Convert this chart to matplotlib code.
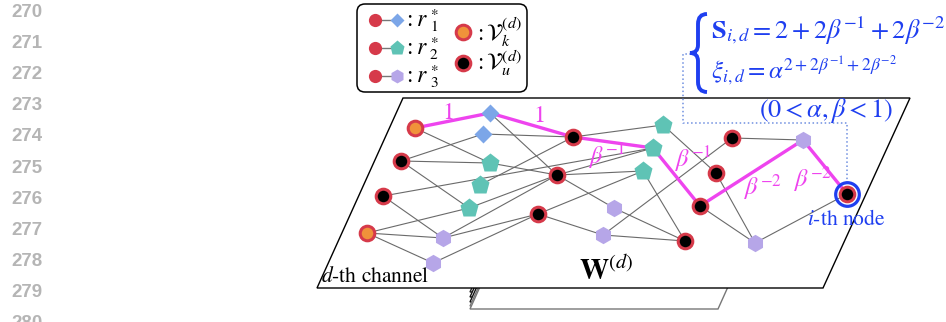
import matplotlib
matplotlib.use("Agg")
import matplotlib.pyplot as plt
from matplotlib.patches import Polygon, FancyBboxPatch, PathPatch
from matplotlib.path import Path

plt.rcParams['font.family'] = 'STIXGeneral'
plt.rcParams['mathtext.fontset'] = 'stix'

# node positions (pixel space of the 946x322 picture) and kinds
node_x = [415, 367, 573, 401, 557, 383, 538, 732, 716, 700, 685, 847,
          490, 483, 663, 653, 643, 490, 480, 469, 443, 433, 614, 603, 803, 755]
node_y = [128, 233, 137, 161, 175, 196, 214, 138, 173, 206, 241, 194,
          113, 134, 125, 148, 171, 163, 185, 208, 238, 263, 208, 235, 140, 243]
node_kind = ['known', 'known'] + ['unknown'] * 10 + ['r1', 'r1'] + ['r2'] * 6 + ['r3'] * 6

edges = [(0, 12), (0, 17), (12, 4), (12, 2), (13, 2), (13, 3), (3, 17), (3, 19),
         (17, 4), (18, 2), (5, 15), (5, 20), (1, 19), (1, 20), (1, 21), (20, 4),
         (20, 6), (19, 4), (21, 6), (6, 23), (6, 16), (4, 22), (4, 16), (4, 15),
         (2, 14), (2, 15), (14, 8), (16, 10), (7, 24), (7, 23), (9, 25), (25, 11),
         (23, 10), (22, 10), (8, 25), (9, 24), (15, 9)]
path_nodes = [0, 12, 2, 15, 9, 24, 11]
path_labels = [r'$1$', r'$1$', r'$\beta^{-1}$', r'$\beta^{-1}$', r'$\beta^{-2}$', r'$\beta^{-2}$']
label_x = [448, 539, 607, 693, 763, 813]
label_y = [113, 116, 157, 160, 188, 180]

line_numbers = [str(n) for n in range(270, 281)]

RED = '#d63a4a'
BLACK = '#000000'
ORANGE = '#f0923a'
BLUE_D = '#7ca6e8'
TEAL = '#5fc3b5'
LAV = '#b6a6e8'
MAG = '#ee44ee'
BLUE = '#1f3ff0'

style = {
    'known': dict(marker='o', ms=10.5, mfc=ORANGE, mec=RED, mew=2.2),
    'unknown': dict(marker='o', ms=10.5, mfc=BLACK, mec=RED, mew=2.2),
    'r1': dict(marker='D', ms=9.5, mfc=BLUE_D, mec='none'),
    'r2': dict(marker='p', ms=14, mfc=TEAL, mec='none'),
    'r3': dict(marker='h', ms=12.5, mfc=LAV, mec='none'),
}

fig = plt.figure(figsize=(9.46, 3.22), dpi=100)
ax = fig.add_axes([0, 0, 1, 1])
ax.set_xlim(0, 946)
ax.set_ylim(322, 0)
ax.axis('off')

# line numbers in the margin
for i, s in enumerate(line_numbers):
    ax.text(27, 12 + 31.2 * i, s, family='Liberation Sans', weight='bold',
            color='#b5b5b5', fontsize=13.5, ha='center', va='center')

# stack of channels behind the plane
layer_b = [292, 297, 302, 306, 309]
layer_c = ['#222222', '#111111', '#111111', '#777777', '#777777']
for b, c in zip(layer_b, layer_c):
    ax.add_patch(Polygon([(470, b), (718, b), (763, b - 100), (515, b - 100)],
                         closed=True, fc='white', ec=c, lw=1, zorder=1))

# main plane
ax.add_patch(Polygon([(317, 288), (823, 288), (910, 98), (403, 98)], closed=True,
                     fc='white', ec='black', lw=1, zorder=2))

# dotted blue guide
ax.plot([695, 683, 683, 847, 847], [54, 54, 123, 123, 182], ls=':', color='#6f8fe0',
        lw=1.1, zorder=3)

for a, b in edges:
    ax.plot([node_x[a], node_x[b]], [node_y[a], node_y[b]], color='#6a6a6a', lw=0.8, zorder=3)

ax.plot([node_x[n] for n in path_nodes], [node_y[n] for n in path_nodes],
        color=MAG, lw=2.4, zorder=4, solid_capstyle='round')

for x, y, k in zip(node_x, node_y, node_kind):
    ax.plot(x, y, ls='none', zorder=5, **style[k])

for s, x, y in zip(path_labels, label_x, label_y):
    ax.text(x, y, s, color=MAG, fontsize=17.5, ha='center', va='center', zorder=6)

# i-th node highlight
ax.plot(node_x[11], node_y[11], marker='o', ms=17, mfc='none', mec=BLUE, mew=2.3, zorder=6)
ax.text(846, 220, r'$i$-th node', color=BLUE, fontsize=15.5, ha='center', va='center', zorder=6)

ax.text(321, 277, r'$d$-th channel', fontsize=15.5, ha='left', va='center', zorder=6)
ax.text(606, 271, r'$\mathbf{W}^{(d)}$', fontsize=21, ha='center', va='center', zorder=6)

# legend box
ax.add_patch(FancyBboxPatch((360, 7), 164, 82, boxstyle='round,pad=3,rounding_size=8',
                            fc='white', ec='black', lw=1.1, zorder=6))
leg_kinds = ['r1', 'r2', 'r3']
leg_sub = ['1', '2', '3']
leg_y = [20, 48, 76]
for k, s, y in zip(leg_kinds, leg_sub, leg_y):
    ax.plot([375, 397], [y, y], color='#777777', lw=1, zorder=7)
    ax.plot(375, y, ls='none', marker='o', ms=9.5, mfc=RED, mec='none', zorder=8)
    st = dict(style[k])
    st['ms'] = st['ms'] * 0.8
    ax.plot(397, y, ls='none', zorder=8, **st)
    ax.text(403, y, r'$:r$', fontsize=17, ha='left', va='center', zorder=8)
    ax.text(430, y + 1, '*\n' + s, fontsize=11, linespacing=0.9, ha='left', va='center',
            zorder=8)
ax.plot(463, 32, ls='none', zorder=8, **style['known'])
ax.plot(463, 63, ls='none', zorder=8, **style['unknown'])
ax.text(474, 32, r'$:\mathcal{V}_k^{(d)}$', fontsize=16.5, ha='left', va='center', zorder=8)
ax.text(474, 63, r'$:\mathcal{V}_u^{(d)}$', fontsize=16.5, ha='left', va='center', zorder=8)

# brace and formulas
verts = [(707, 14), (698, 14), (698, 24), (698, 45), (698, 53), (690, 53),
         (698, 53), (698, 61), (698, 82), (698, 92), (707, 92)]
codes = [Path.MOVETO, Path.CURVE3, Path.CURVE3, Path.LINETO, Path.CURVE3, Path.CURVE3,
         Path.CURVE3, Path.CURVE3, Path.LINETO, Path.CURVE3, Path.CURVE3]
ax.add_patch(PathPatch(Path(verts, codes), fc='none', ec=BLUE, lw=2.8, zorder=6))
ax.text(711, 30, r'$\mathbf{S}_{i,d}=2+2\beta^{-1}+2\beta^{-2}$', color=BLUE, fontsize=19,
        ha='left', va='center', zorder=6)
ax.text(711, 70, r'$\xi_{i,d}=\alpha^{2+2\beta^{-1}+2\beta^{-2}}$', color=BLUE, fontsize=18,
        ha='left', va='center', zorder=6)
ax.text(893, 110, r'$(0<\alpha,\beta<1)$', color=BLUE, fontsize=19,
        ha='right', va='center', zorder=6)

fig.savefig('out.png', dpi=100)
